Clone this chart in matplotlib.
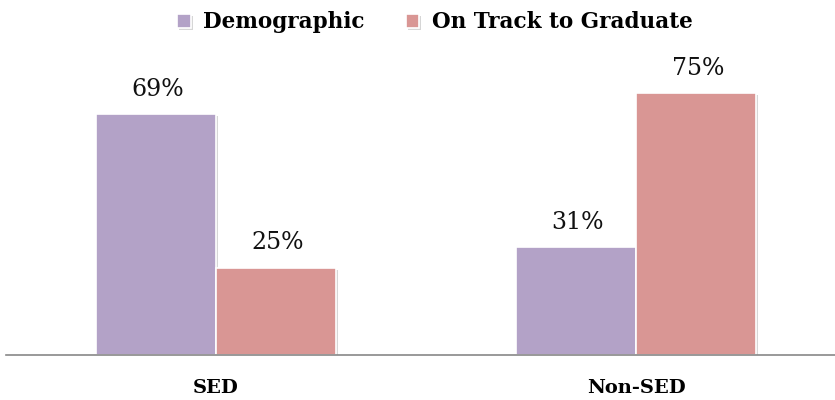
import matplotlib.pyplot as plt
import matplotlib.patheffects as pe
import numpy as np

# chart data
categories = ['SED', 'Non-SED']
series_names = ['Demographic', 'On Track to Graduate']
demographic = [69, 31]
on_track = [25, 75]
colors = ['#B3A2C7', '#D99694']

plt.rcParams['font.family'] = ['DejaVu Serif']

fig = plt.figure(figsize=(8.35, 4.0), dpi=100)
ax = fig.add_axes([6 / 835, 45 / 400, 829 / 835, 355 / 400])

x = np.arange(len(categories))
width = 0.286
shadow = [pe.SimplePatchShadow(offset=(1.5, -1.5), shadow_rgbFace='#999999', alpha=0.4), pe.Normal()]

for i, (vals, col, name) in enumerate(zip([demographic, on_track], colors, series_names)):
    bars = ax.bar(x + (i - 0.5) * width, vals, width, color=col, edgecolor='white',
                  linewidth=1.2, label=name, zorder=2)
    for b in bars:
        b.set_path_effects(shadow)
    for b, v in zip(bars, vals):
        ax.text(b.get_x() + b.get_width() / 2 + 2 / 420, v + 3.8, f'{v}%', ha='center', va='bottom',
                fontsize=17, color='#111111')

ax.set_xlim(-0.5, -0.5 + 829 / 420)
ax.set_ylim(0, 101.7)
ax.set_yticks([])
ax.set_xticks(x)
ax.set_xticklabels(categories, fontsize=14, fontweight='bold')
ax.tick_params(axis='x', length=0, pad=17)
for s in ['top', 'right', 'left']:
    ax.spines[s].set_visible(False)
ax.spines['bottom'].set_color('#888888')
ax.spines['bottom'].set_linewidth(1.2)

leg = fig.legend(loc='upper center', bbox_to_anchor=(0.521, 1.02), ncol=2, frameon=False,
                 prop={'size': 15.5, 'weight': 'bold'}, handlelength=0.62, handleheight=0.62,
                 handletextpad=0.6, columnspacing=1.9)

fig.savefig('out.png', dpi=100)
